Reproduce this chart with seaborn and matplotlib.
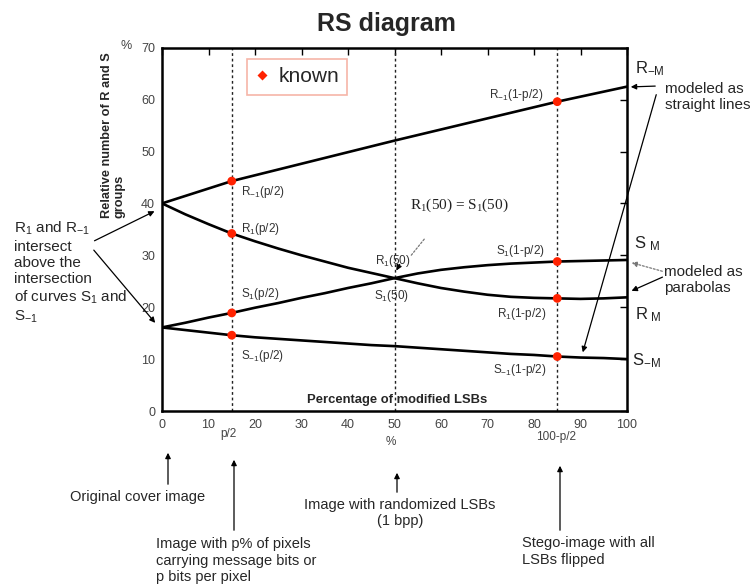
import numpy as np
import pandas as pd
import matplotlib
matplotlib.use("Agg")
import matplotlib.pyplot as plt
import seaborn as sns
from matplotlib.lines import Line2D

# ---------------- data ----------------
x_pct = [0, 5, 10, 15, 20, 25, 30, 35, 40, 45, 50, 55, 60, 65, 70, 75, 80, 85, 90, 95, 100]
r_pos = [40.0, 37.9, 36.0, 34.2, 32.7, 31.3, 30.0, 28.8, 27.6, 26.6, 25.6, 24.6, 23.7, 23.0,
         22.4, 22.0, 21.8, 21.7, 21.6, 21.7, 21.9]
s_pos = [16.1, 17.0, 18.0, 18.9, 19.9, 20.8, 21.8, 22.7, 23.7, 24.6, 25.6, 26.5, 27.2, 27.7,
         28.1, 28.4, 28.6, 28.8, 28.9, 29.0, 29.1]
s_neg = [16.1, 15.6, 15.1, 14.6, 14.2, 13.9, 13.6, 13.3, 13.0, 12.7, 12.5, 12.2, 11.9, 11.6,
         11.3, 11.0, 10.8, 10.5, 10.3, 10.2, 10.0]
x_rneg = [0, 15, 50, 85, 100]
r_neg = [40.0, 44.3, 52.1, 59.6, 62.5]

known_x = [15, 15, 15, 15, 85, 85, 85, 85]
known_y = [44.3, 34.2, 18.9, 14.6, 59.6, 21.7, 28.8, 10.5]

marker_x = [15, 50, 85]
x_ticks = [0, 10, 20, 30, 40, 50, 60, 70, 80, 90, 100]
y_ticks = [0, 10, 20, 30, 40, 50, 60, 70]

# ---------------- style ----------------
sns.set_theme(style="white")
plt.rcParams["font.family"] = ["Liberation Sans", "DejaVu Sans"]
plt.rcParams["mathtext.default"] = "regular"

W, H = 751, 586
fig = plt.figure(figsize=(W / 100, H / 100), dpi=100)
fig.patch.set_facecolor("white")


def P(x, y):
    return (x / W, 1 - y / H)


x0, x1, ytop, ybot = 162, 627, 47.7, 411
ax = fig.add_axes([x0 / W, 1 - ybot / H, (x1 - x0) / W, (ybot - ytop) / H])

curves = pd.concat([
    pd.DataFrame({"x": x_pct, "y": r_pos, "curve": "R1"}),
    pd.DataFrame({"x": x_pct, "y": s_pos, "curve": "S1"}),
    pd.DataFrame({"x": x_pct, "y": s_neg, "curve": "S-1"}),
    pd.DataFrame({"x": x_rneg, "y": r_neg, "curve": "R-1"}),
])
sns.lineplot(data=curves, x="x", y="y", hue="curve", units="curve", estimator=None,
             palette={"R1": "black", "S1": "black", "S-1": "black", "R-1": "black"},
             linewidth=1.9, legend=False, ax=ax, sort=True)

for xv in marker_x:
    ax.axvline(xv, color="#222222", linestyle=(0, (2, 2)), linewidth=1.0, zorder=1)

sns.scatterplot(x=known_x, y=known_y, color="#ff2200", s=40, edgecolor="none",
                ax=ax, zorder=5, legend=False)

ax.set_xlim(0, 100)
ax.set_ylim(0, 70)
ax.set_xticks(x_ticks)
ax.set_yticks(y_ticks)
ax.set_xlabel("")
ax.set_ylabel("")
ax.tick_params(direction="in", length=5, width=1, top=True, right=True,
               labelcolor="#444444", labelsize=9, color="black")
ax.tick_params(axis="x", pad=6)
ax.tick_params(axis="y", pad=5)
for sp in ax.spines.values():
    sp.set_color("black")
    sp.set_linewidth(1.8)

# legend
h = Line2D([], [], marker="D", color="none", markerfacecolor="#ff2200",
           markeredgecolor="none", markersize=5.5)
leg = fig.legend([h], ["known"], loc="upper left", bbox_to_anchor=P(247, 59),
                 frameon=True, fancybox=False, fontsize=15, handlelength=0.6,
                 handletextpad=0.5, borderpad=0.4, borderaxespad=0)
leg.get_frame().set_edgecolor("#f3a392")
leg.get_frame().set_linewidth(1.2)

# title and axis texts
fig.text(*P(386, 24), "RS diagram", ha="center", va="center", fontsize=18,
         fontweight="bold")
fig.text(*P(126, 46), "%", ha="center", va="center", fontsize=9, color="#444444")
fig.text(*P(113, 218), "Relative number of R and S\ngroups", rotation=90,
         ha="center", va="bottom", multialignment="left", fontsize=9.2,
         fontweight="bold", linespacing=1.05)
fig.text(*P(397, 400), "Percentage of modified LSBs", ha="center", va="center",
         fontsize=9.4, fontweight="bold")
fig.text(*P(228, 434), "p/2", ha="center", va="center", fontsize=8.5, color="#444444")
fig.text(*P(391, 442), "%", ha="center", va="center", fontsize=8.5, color="#444444")
fig.text(*P(556, 437), "100-p/2", ha="center", va="center", fontsize=8.5,
         color="#444444")

# curve labels
lab = dict(fontsize=8.5, color="#333333", va="center")
fig.text(*P(241, 192), "R$_{-1}$(p/2)", ha="left", **lab)
fig.text(*P(241, 229), "R$_{1}$(p/2)", ha="left", **lab)
fig.text(*P(241, 294), "S$_{1}$(p/2)", ha="left", **lab)
fig.text(*P(241, 356), "S$_{-1}$(p/2)", ha="left", **lab)
fig.text(*P(516, 95), "R$_{-1}$(1-p/2)", ha="center", **lab)
fig.text(*P(520, 251), "S$_{1}$(1-p/2)", ha="center", **lab)
fig.text(*P(522, 314), "R$_{1}$(1-p/2)", ha="center", **lab)
fig.text(*P(520, 370), "S$_{-1}$(1-p/2)", ha="center", **lab)
fig.text(*P(393, 261), "R$_{1}$(50)", ha="center", **lab)
fig.text(*P(392, 296), "S$_{1}$(50)", ha="center", **lab)
fig.text(*P(459, 205), "R$_{1}$(50) = S$_{1}$(50)", ha="center", va="center",
         fontsize=11, family=["Liberation Serif", "DejaVu Serif"], color="#222222")

# right-side labels
rl = dict(fontsize=12, ha="left", va="center", color="#222222")
fig.text(*P(635, 69), "R$_{-M}$", **rl)
fig.text(*P(634, 244), "S$_{\\ M}$", **rl)
fig.text(*P(635, 315), "R$_{\\ M}$", **rl)
fig.text(*P(632, 361), "S$_{-M}$", **rl)
fig.text(*P(665, 97), "modeled as\nstraight lines", ha="left", va="center",
         fontsize=11, linespacing=1.15)
fig.text(*P(664, 280), "modeled as\nparabolas", ha="left", va="center",
         fontsize=11, linespacing=1.15)

# left annotation
fig.text(*P(14, 220), "R$_1$ and R$_{-1}$\nintersect\nabove the\nintersection\n"
         "of curves S$_1$ and\nS$_{-1}$", ha="left", va="top", fontsize=11,
         linespacing=1.2)

# bottom annotations
fig.text(*P(70, 497), "Original cover image", ha="left", va="center", fontsize=10.5)
fig.text(*P(156, 537), "Image with p% of pixels\ncarrying message bits or\np bits per pixel",
         ha="left", va="top", fontsize=10.5, linespacing=1.25)
fig.text(*P(400, 513), "Image with randomized LSBs\n(1 bpp)", ha="center",
         va="center", fontsize=10.5, linespacing=1.25)
fig.text(*P(522, 536), "Stego-image with all\nLSBs flipped", ha="left", va="top",
         fontsize=10.5, linespacing=1.25)


def arrow(p_from, p_to, style="-|>", ls="-", color="black", lw=0.9):
    fig.add_artist(matplotlib.patches.FancyArrowPatch(
        P(*p_from), P(*p_to), transform=fig.transFigure, arrowstyle=style,
        mutation_scale=8, color=color, linewidth=lw, linestyle=ls))


arrow((658, 86), (628, 87))
arrow((657, 92), (582, 355))
arrow((665, 272), (629, 262), ls=(0, (1.5, 1.5)), color="#777777")
arrow((665, 276), (629, 292))
arrow((92, 242), (157, 210))
arrow((92, 248), (157, 325))
arrow((426, 237), (409, 258), style="-", ls=(0, (1.5, 1.5)), color="#777777")
arrow((401, 262), (395, 273))
arrow((168, 487), (168, 450))
arrow((234, 533), (234, 457))
arrow((397, 495), (397, 470))
arrow((560, 533), (560, 463))

fig.savefig("out.png", dpi=100, facecolor="white")
